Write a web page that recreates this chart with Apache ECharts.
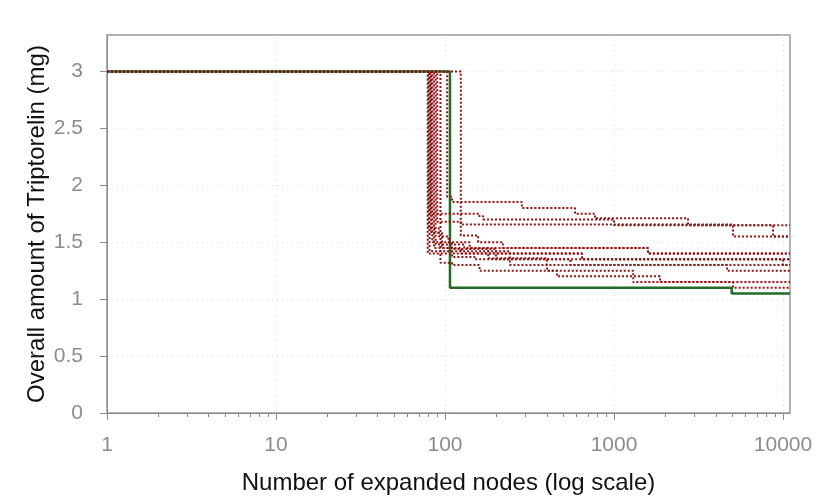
<!DOCTYPE html>
<html>
<head>
<meta charset="utf-8">
<script src="https://cdn.jsdelivr.net/npm/echarts@6/dist/echarts.min.js"></script>
<style>
  html, body { margin: 0; padding: 0; background: #fff; }
  #chart { width: 830px; height: 498px; }
</style>
</head>
<body>
<div id="chart"></div>
<script>
(function() {
  // tick values
  var xTicks = [1, 10, 100, 1000, 10000];
  var xMinorTicks = [2, 3, 4, 5, 6, 7, 8, 9, 20, 30, 40, 50, 60, 70, 80, 90,
    200, 300, 400, 500, 600, 700, 800, 900, 2000, 3000, 4000, 5000, 6000, 7000, 8000, 9000];
  var yTicks = [0, 0.5, 1, 1.5, 2, 2.5, 3];

  // best run (green), [nodes, mg]
  var bestRun = [[1, 3], [107, 1.1], [4970, 1.05], [11000, 1.05]];

  // other runs (red dotted), [nodes, mg]
  var run1 = [[1, 3], [103, 1.9], [110, 1.854], [285, 1.8], [588, 1.75], [772, 1.71], [2740, 1.65], [8730, 1.55], [11000, 1.55]];
  var run2 = [[1, 3], [82, 1.75], [157, 1.73], [168, 1.7], [1000, 1.65], [11000, 1.65]];
  var run3 = [[1, 3], [90, 1.68], [124, 1.655], [5061, 1.55], [11000, 1.55]];
  var run4 = [[1, 3], [124, 1.56], [157, 1.5], [220, 1.45], [1589, 1.4], [11000, 1.4]];
  var run5 = [[1, 3], [79, 1.4], [647, 1.35], [10000, 1.3], [11000, 1.3]];
  var run6 = [[1, 3], [86, 1.45], [110, 1.37], [150, 1.35], [11000, 1.35]];
  var run7 = [[1, 3], [94, 1.32], [110, 1.3], [160, 1.25], [460, 1.2], [1872, 1.15], [11000, 1.15]];
  var run8 = [[1, 3], [81, 1.42], [242, 1.3], [4666, 1.25], [11000, 1.25]];
  var run9 = [[1, 3], [88, 1.48], [130, 1.45], [180, 1.36], [401, 1.25], [1300, 1.15], [5061, 1.1], [11000, 1.1]];
  var run10 = [[1, 3], [84, 1.5], [110, 1.44], [200, 1.35], [553, 1.3], [11000, 1.3]];
  var run11 = [[1, 3], [80, 1.62], [92, 1.55], [105, 1.5], [140, 1.45], [1589, 1.4], [11000, 1.4]];
  var run12 = [[1, 3], [83, 1.58], [96, 1.45], [125, 1.4], [647, 1.35], [11000, 1.35]];
  var otherRuns = [run1, run2, run3, run4, run5, run6, run7, run8, run9, run10, run11, run12];

  var grey = '#8c8c8c';
  var font = 'Liberation Sans, Arial, sans-serif';

  var chart = echarts.init(document.getElementById('chart'), null, { renderer: 'canvas' });

  var series = [{
    type: 'line',
    data: bestRun,
    step: 'end',
    symbol: 'none',
    z: 2,
    lineStyle: { color: '#236b23', width: 2.5 }
  }];
  otherRuns.forEach(function(run) {
    series.push({
      type: 'line',
      data: run,
      step: 'end',
      symbol: 'none',
      z: 3,
      lineStyle: { color: '#8b1414', width: 2, type: [2, 2] }
    });
  });

  chart.setOption({
    animation: false,
    grid: {
      left: 107, right: 40, top: 35, bottom: 85,
      outerBoundsMode: 'none',
      show: true, borderColor: '#999', borderWidth: 1.5
    },
    xAxis: [{
      type: 'log',
      logBase: 10,
      min: 1,
      max: 11000,
      name: 'Number of expanded nodes (log scale)',
      nameLocation: 'middle',
      nameGap: 58,
      nameMoveOverlap: false,
      nameTextStyle: { color: '#111', fontSize: 24, fontFamily: font, verticalAlign: 'top' },
      axisLine: { show: true, lineStyle: { color: grey, width: 1 } },
      axisTick: { show: true, length: 7, customValues: xTicks, lineStyle: { color: grey } },
      axisLabel: {
        customValues: xTicks,
        color: grey, fontSize: 21, fontFamily: font, margin: 22,
        formatter: function(v) { return String(v); }
      },
      splitLine: { show: true, lineStyle: { color: '#dcdcdc', type: [1, 4], width: 1 } }
    }, {
      type: 'log',
      logBase: 10,
      min: 1,
      max: 11000,
      gridIndex: 0,
      position: 'bottom',
      axisLine: { show: false },
      axisTick: { show: true, length: 4, customValues: xMinorTicks, lineStyle: { color: grey } },
      axisLabel: { show: false },
      splitLine: { show: false }
    }],
    yAxis: {
      type: 'value',
      min: 0,
      max: 3.32,
      interval: 0.5,
      name: 'Overall amount of Triptorelin (mg)',
      nameLocation: 'middle',
      nameGap: 58,
      nameMoveOverlap: false,
      nameTextStyle: { color: '#111', fontSize: 24, fontFamily: font, verticalAlign: 'bottom' },
      axisLine: { show: true, lineStyle: { color: grey, width: 1 } },
      axisTick: { show: true, length: 7, customValues: yTicks, lineStyle: { color: grey } },
      axisLabel: { customValues: yTicks, color: grey, fontSize: 21, fontFamily: font, margin: 24 },
      splitLine: { show: true, lineStyle: { color: '#dcdcdc', type: [1, 4], width: 1 } }
    },
    series: series
  });
})();
</script>
</body>
</html>
